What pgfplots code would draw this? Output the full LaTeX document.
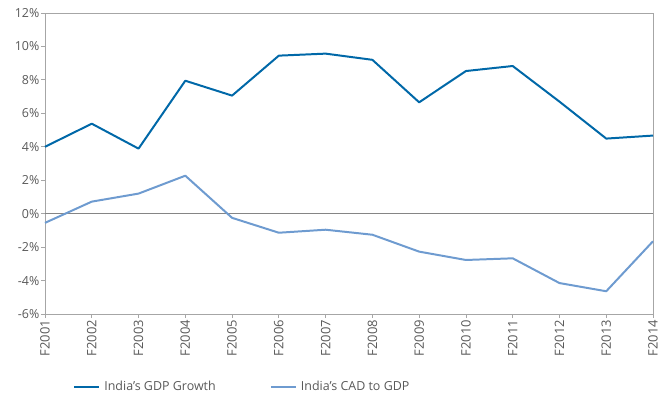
\documentclass[border=0pt]{standalone}
\usepackage{pgfplots}
\pgfplotsset{compat=1.18}
\usepackage{fontspec}
\setmainfont{Open Sans}
\definecolor{gdp}{HTML}{0068A8}
\definecolor{cad}{HTML}{6E9BD0}
\definecolor{axgray}{HTML}{A6A6A6}
\definecolor{txt}{HTML}{595959}
\begin{document}
\begin{tikzpicture}
\path[use as bounding box] (-45bp,-82bp) rectangle (618bp,314bp);
\begin{axis}[
  at={(0,0)}, anchor=south west,
  scale only axis, width=608bp, height=301bp,
  xmin=0, xmax=13, ymin=-6, ymax=12,
  xtick={0,...,13},
  xticklabels={F2001,F2002,F2003,F2004,F2005,F2006,F2007,F2008,F2009,F2010,F2011,F2012,F2013,F2014},
  x tick label style={rotate=90, anchor=east, font=\fontsize{13}{13}\selectfont, text=txt, inner sep=2pt},
  ytick={-6,-4,...,12},
  yticklabel={\pgfmathprintnumber{\tick}\%},
  y tick label style={font=\fontsize{12.5}{13}\selectfont, text=txt, inner sep=1.5pt},
  /pgf/number format/assume math mode=true,
  axis line style={axgray, line width=0.9pt},
  tick style={axgray, line width=0.8pt},
  tick align=outside, major tick length=4bp,
  xtick pos=bottom, ytick pos=left,
  axis x line*=bottom, axis y line*=left,
  clip=false,
  legend style={at={(axis description cs:0.046,-0.2425)}, anchor=west, draw=none, fill=none, inner sep=0pt,
    font=\fontsize{12.5}{14}\selectfont, text=txt, legend columns=2,
    /tikz/every even column/.append style={column sep=52bp},
    /tikz/every odd column/.append style={column sep=2bp}},
  legend image code/.code={\draw[#1, line width=2.2pt] (0bp,0bp) -- (25bp,0bp);},
]
\draw[axgray, line width=0.9pt] (rel axis cs:0,1) -- (rel axis cs:1,1) -- (rel axis cs:1,0);
\draw[axgray!80!black, line width=0.7pt] (axis cs:0,0) -- (axis cs:13,0);
\addplot[gdp, line width=2pt, line join=round] coordinates {
(0,4.0) (1,5.38) (2,3.89) (3,7.95) (4,7.06) (5,9.45) (6,9.57) (7,9.2) (8,6.66) (9,8.53) (10,8.83) (11,6.7) (12,4.49) (13,4.67)};
\addlegendentry{India's GDP Growth}
\addplot[cad, line width=2pt, line join=round] coordinates {
(0,-0.55) (1,0.72) (2,1.2) (3,2.27) (4,-0.25) (5,-1.14) (6,-0.96) (7,-1.26) (8,-2.27) (9,-2.77) (10,-2.67) (11,-4.15) (12,-4.64) (13,-1.65)};
\addlegendentry{India's CAD to GDP}
\end{axis}
\end{tikzpicture}
\end{document}
